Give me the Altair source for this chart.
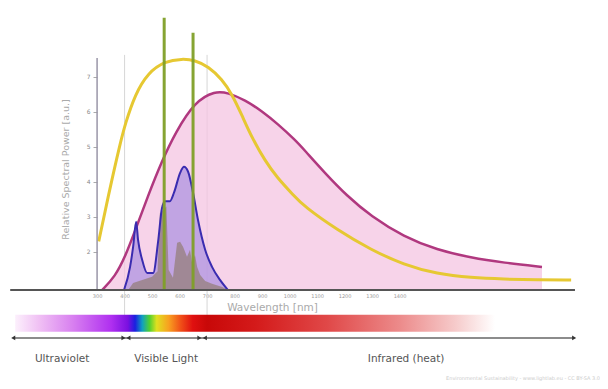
import altair as alt
import pandas as pd

# ---------------- data ----------------
tick_nm = [300, 400, 500, 600, 700, 800, 900, 1000, 1100, 1200, 1300, 1400]
tick_val = [2, 3, 4, 5, 6, 7]

yellow_nm = [306, 347, 384, 402, 438, 485, 547, 609, 656, 704, 755, 791, 827, 864,
             911, 955, 1013, 1053, 1173, 1296, 1416, 1536, 1660, 1780, 1900, 2024]
yellow_val = [2.3, 3.83, 5.1, 5.65, 6.5, 7.12, 7.45, 7.52, 7.48, 7.3, 6.93, 6.5, 5.9, 5.25,
              4.6, 4.12, 3.63, 3.3, 2.63, 2.06, 1.63, 1.37, 1.26, 1.22, 1.2, 1.2]

magenta_nm = [318, 365, 402, 438, 485, 536, 584, 656, 729, 776, 838, 900, 958, 1020,
              1053, 1129, 1209, 1296, 1416, 1536, 1660, 1780, 1918]
magenta_val = [0.91, 1.29, 1.86, 2.6, 3.6, 4.6, 5.4, 6.3, 6.6, 6.55, 6.34, 6.02, 5.65, 5.2,
               4.92, 4.25, 3.6, 3.02, 2.43, 2.06, 1.83, 1.69, 1.57]

blue_nm = [398, 420, 431, 442, 449, 464, 482, 504, 522, 536, 547, 565, 580, 602, 616,
           631, 649, 667, 693, 718, 747, 776]
blue_val = [0.91, 1.57, 2.14, 2.86, 2.34, 1.77, 1.4, 1.4, 2.3, 3.25, 3.45, 3.45, 3.7, 4.26, 4.43,
            4.29, 3.69, 2.91, 2.06, 1.57, 1.2, 0.91]

gray_nm = [413, 431, 464, 500, 520, 528, 552, 560, 576, 591, 602, 613, 627, 638, 645,
           656, 664, 675, 693, 718, 755, 776]
gray_val = [0.91, 1.11, 1.2, 1.29, 1.45, 3.1, 3.3, 1.49, 1.26, 2.26, 2.29, 2.14, 1.86, 2.06, 1.71,
            1.91, 1.57, 1.34, 1.17, 1.09, 1.0, 0.91]

spike_nm = [544, 649]
spike_top = [8.69, 8.26]

visible_edges_nm = [400, 700]

band_labels = ["Ultraviolet", "Visible Light", "Infrared (heat)"]
band_label_nm = [173, 551, 1424]

credit_text = "Environmental Sustainability - www.lightlab.eu - CC BY-SA 3.0"

# ---------------- layout constants (styling, not data) ----------------
W, H = 592, 373
BASE = 0.91            # value of the baseline
FONT = "DejaVu Sans"

xs = alt.Scale(domain=[-24, 2129], nice=False, zero=False)
ys = alt.Scale(domain=[-1.69, 8.97], nice=False, zero=False)

x_axis = alt.Axis(values=tick_nm, format="d", offset=-91, domain=False, ticks=False, grid=False,
                  labelFontSize=5, labelColor="#999999", labelPadding=3, labelFont=FONT,
                  title="Wavelength [nm]", titleFontSize=10.5, titleColor="#aaaaaa",
                  titleFontWeight="normal", titleFont=FONT, titleX=264, titleY=17,
                  titleAlign="center", titleBaseline="middle")
y_axis = alt.Axis(values=tick_val, offset=-89, domain=False, ticks=True, tickSize=4,
                  tickColor="#aaaaaa", grid=False, labelFontSize=6, labelColor="#888888",
                  labelPadding=3, labelFont=FONT,
                  title="Relative Spectral Power [a.u.]", titleFontSize=9.5, titleColor="#aaaaaa",
                  titleFontWeight="normal", titleFont=FONT, titleX=-32, titleY=161,
                  titleAngle=270, titleAlign="center", titleBaseline="middle")

X = alt.X("nm:Q", scale=xs, axis=x_axis)
Y = alt.Y("val:Q", scale=ys, axis=y_axis)


def df(nm, val, **extra):
    d = pd.DataFrame({"nm": nm, "val": val})
    for k, v in extra.items():
        d[k] = v
    return d


yellow_df = df(yellow_nm, yellow_val)
magenta_df = df(magenta_nm, magenta_val, base=BASE)
blue_df = df(blue_nm, blue_val, base=BASE)
gray_df = df(gray_nm, gray_val, base=BASE)
spike_df = df(spike_nm, spike_top, base=BASE)
edge_df = df(visible_edges_nm, [7.63, 7.63], low=-0.23)

# axes lines drawn in data space
yaxis_df = pd.DataFrame({"nm": [300], "val": [7.54], "base": [BASE]})
xaxis_df = pd.DataFrame({"nm": [-16], "nm2": [2038], "val": [BASE]})

# spectrum strip + arrows
strip_df = pd.DataFrame({"nm": [2], "nm2": [1747], "val": [0.2], "val2": [-0.28]})
arrow_df = pd.DataFrame({"nm": [-5], "nm2": [2035], "val": [-0.46]})
head_df = pd.DataFrame({
    "nm": [-5, 396, 414, 672, 692, 2035],
    "val": [-0.46] * 6,
    "shape": ["triangle-left", "triangle-right", "triangle-left",
              "triangle-right", "triangle-left", "triangle-right"],
})
label_df = pd.DataFrame({"nm": band_label_nm, "val": [-1.06] * 3, "text": band_labels})
credit_df = pd.DataFrame({"nm": [2129], "val": [-1.69], "text": [credit_text]})

stops = [(0.0, "#fcf0fc"), (0.05, "#f0c0f4"), (0.12, "#d880f0"), (0.2, "#b030f0"),
         (0.235, "#7a10e0"), (0.25, "#1a20e0"), (0.265, "#10a0c0"), (0.28, "#50d030"),
         (0.295, "#e0e020"), (0.32, "#f8a020"), (0.345, "#f05018"), (0.37, "#e01010"),
         (0.4, "#c80808"), (0.5, "#d41a1a"), (0.65, "#e04848"), (0.8, "#ec8a8a"),
         (0.92, "#f6cccc"), (1.0, "#ffffff")]
gradient = alt.LinearGradient(
    gradient="linear", x1=0, x2=1, y1=0, y2=0,
    stops=[alt.GradientStop(offset=o, color=c) for o, c in stops])

layers = []

# vertical guides for visible range
layers.append(alt.Chart(edge_df).mark_rule(color="#d6d6d6", strokeWidth=1).encode(
    x=X, y=Y, y2=alt.Y2("low:Q")))

# pink (magenta) area + line
layers.append(alt.Chart(magenta_df).mark_area(color="#f4c4e2", opacity=0.75,
                                              interpolate="basis").encode(
    x=X, y=Y, y2=alt.Y2("base:Q")))
layers.append(alt.Chart(magenta_df).mark_line(color="#b0387f", strokeWidth=2.5,
                                              interpolate="basis").encode(x=X, y=Y))

# blue area
layers.append(alt.Chart(blue_df).mark_area(color="#a48be0", opacity=0.65,
                                           interpolate="monotone").encode(
    x=X, y=Y, y2=alt.Y2("base:Q")))
# gray-brown area
layers.append(alt.Chart(gray_df).mark_area(color="#8a7660", opacity=0.6,
                                           interpolate="linear").encode(
    x=X, y=Y, y2=alt.Y2("base:Q")))
# blue line
layers.append(alt.Chart(blue_df).mark_line(color="#3a2cb0", strokeWidth=2,
                                           interpolate="monotone").encode(x=X, y=Y))

# yellow line
layers.append(alt.Chart(yellow_df).mark_line(color="#e6c832", strokeWidth=3,
                                             interpolate="basis").encode(x=X, y=Y))

# green spikes
layers.append(alt.Chart(spike_df).mark_rule(color="#7f9f28", strokeWidth=3, opacity=0.95).encode(
    x=X, y=Y, y2=alt.Y2("base:Q")))

# axis lines
layers.append(alt.Chart(yaxis_df).mark_rule(color="#9a96a8", strokeWidth=1.5).encode(
    x=X, y=Y, y2=alt.Y2("base:Q")))
layers.append(alt.Chart(xaxis_df).mark_rule(color="#555555", strokeWidth=2).encode(
    x=X, x2=alt.X2("nm2:Q"), y=Y))

# spectrum strip
layers.append(alt.Chart(strip_df).mark_rect(fill=gradient).encode(
    x=X, x2=alt.X2("nm2:Q"), y=Y, y2=alt.Y2("val2:Q")))

# arrow line + heads
layers.append(alt.Chart(arrow_df).mark_rule(color="#666666", strokeWidth=1.5).encode(
    x=X, x2=alt.X2("nm2:Q"), y=Y))
layers.append(alt.Chart(head_df).mark_point(filled=True, color="#333333", size=22, opacity=1).encode(
    x=X, y=Y, shape=alt.Shape("shape:N", scale=None, legend=None)))

# band labels
layers.append(alt.Chart(label_df).mark_text(font=FONT, fontSize=10.5, color="#555555").encode(
    x=X, y=Y, text="text:N"))

# credit
layers.append(alt.Chart(credit_df).mark_text(font=FONT, fontSize=5, color="#cccccc",
                                             align="right", baseline="bottom").encode(
    x=X, y=Y, text="text:N"))

chart = alt.layer(*layers).properties(
    width=W, height=H, padding=0,
    autosize=alt.AutoSizeParams(type="none"),
    background="white",
).configure_view(stroke=None)

chart.save("out.html", embed_options={"renderer": "svg", "actions": False})
